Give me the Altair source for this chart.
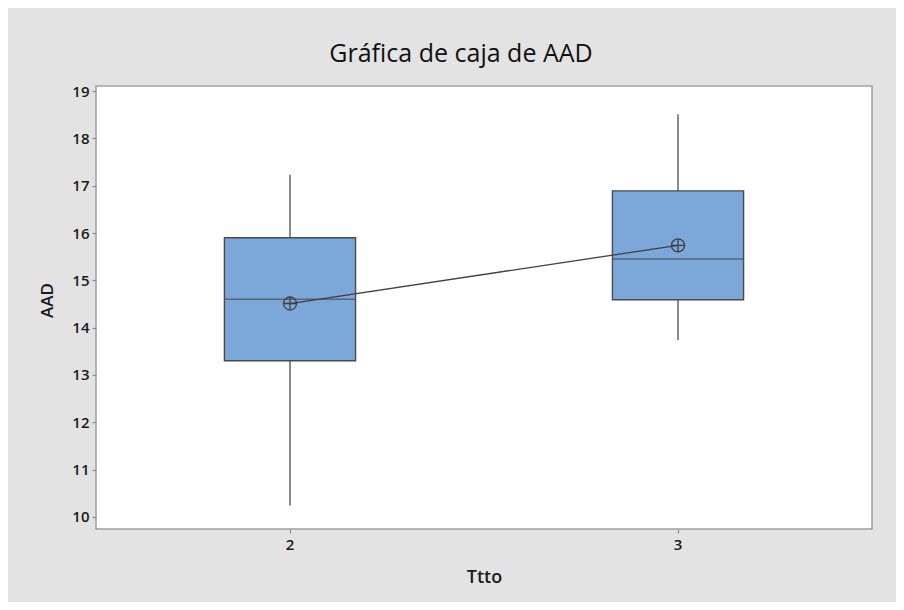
import altair as alt
import pandas as pd

# Values
ttto = ["2", "3"]
whisker_low = [10.24, 13.74]
q1 = [13.30, 14.59]
median = [14.60, 15.45]
q3 = [15.90, 16.89]
whisker_high = [17.23, 18.51]
mean = [14.51, 15.74]
y_ticks = [10, 11, 12, 13, 14, 15, 16, 17, 18, 19]

df = pd.DataFrame({
    "Ttto": ttto,
    "low": whisker_low,
    "q1": q1,
    "median": median,
    "q3": q3,
    "high": whisker_high,
    "mean": mean,
})

FONT = "Open Sans"
DARK = "#4a4a4a"

x_enc = alt.X(
    "Ttto:O",
    title="Ttto",
    scale=alt.Scale(type="band", paddingInner=0.662, paddingOuter=0.331),
    axis=alt.Axis(
        labelAngle=0, labelFontSize=15, labelFontWeight=600, labelColor="#1a1a1a",
        labelFont=FONT, labelPadding=4, tickSize=4, tickColor="#8c8c8c", tickWidth=1.2,
        domain=False, titleFontSize=18, titleFontWeight=600, titleFont=FONT,
        titleColor="#1a1a1a", titleY=48, titleBaseline="middle",
    ),
)

y_scale = alt.Scale(domain=[9.746, 19.106], nice=False, zero=False)
y_axis = alt.Axis(
    values=y_ticks, labelFontSize=15, labelFontWeight=600, labelColor="#1a1a1a",
    labelFont=FONT, labelPadding=3, tickSize=4, tickColor="#8c8c8c", tickWidth=1.2,
    domain=False, grid=False, titleFontSize=17, titleFontWeight=600, titleFont=FONT,
    titleColor="#1a1a1a", titleX=-49, titleY=214, titleBaseline="middle", titleAngle=270,
)

base = alt.Chart(df)

upper = base.mark_rule(color="#6e6e6e", strokeWidth=1.6).encode(
    x=x_enc, y=alt.Y("q3:Q", scale=y_scale, axis=y_axis, title="AAD"), y2="high:Q"
)
lower = base.mark_rule(color="#6e6e6e", strokeWidth=1.6).encode(
    x=x_enc, y=alt.Y("low:Q", scale=y_scale, axis=y_axis, title="AAD"), y2="q1:Q"
)
box = base.mark_bar(fill="#7ba7d9", stroke=DARK, strokeWidth=1.4).encode(
    x=x_enc, y=alt.Y("q1:Q", scale=y_scale, axis=y_axis, title="AAD"), y2="q3:Q"
)
med = base.mark_tick(color=DARK, size=131, thickness=1.4).encode(
    x=x_enc, y=alt.Y("median:Q", scale=y_scale, axis=y_axis, title="AAD")
)
mean_line = base.mark_line(color="#404040", strokeWidth=1.3).encode(
    x=x_enc, y=alt.Y("mean:Q", scale=y_scale, axis=y_axis, title="AAD")
)
mean_pt = base.mark_point(
    shape="M-1,0A1,1,0,1,1,1,0A1,1,0,1,1,-1,0Z M-1,0L1,0 M0,-1L0,1",
    size=170, filled=False, stroke="#404040", strokeWidth=1.3, opacity=1,
).encode(
    x=x_enc, y=alt.Y("mean:Q", scale=y_scale, axis=y_axis, title="AAD")
)

chart = alt.layer(upper, lower, box, med, mean_line, mean_pt).properties(
    width=776,
    height=443,
    title=alt.TitleParams(
        "Gráfica de caja de AAD", fontSize=25, fontWeight=500, font=FONT,
        color="#111111", anchor="middle", dx=-23, offset=17,
    ),
    autosize=alt.AutoSizeParams(type="none"),
    padding={"left": 88, "top": 78, "right": 24, "bottom": 73},
    background="#e3e3e3",
).configure_view(
    stroke="#a0a0a0", strokeWidth=1.5, fill="white"
)

chart.save("out.html", embed_options={"renderer": "svg", "actions": False})
